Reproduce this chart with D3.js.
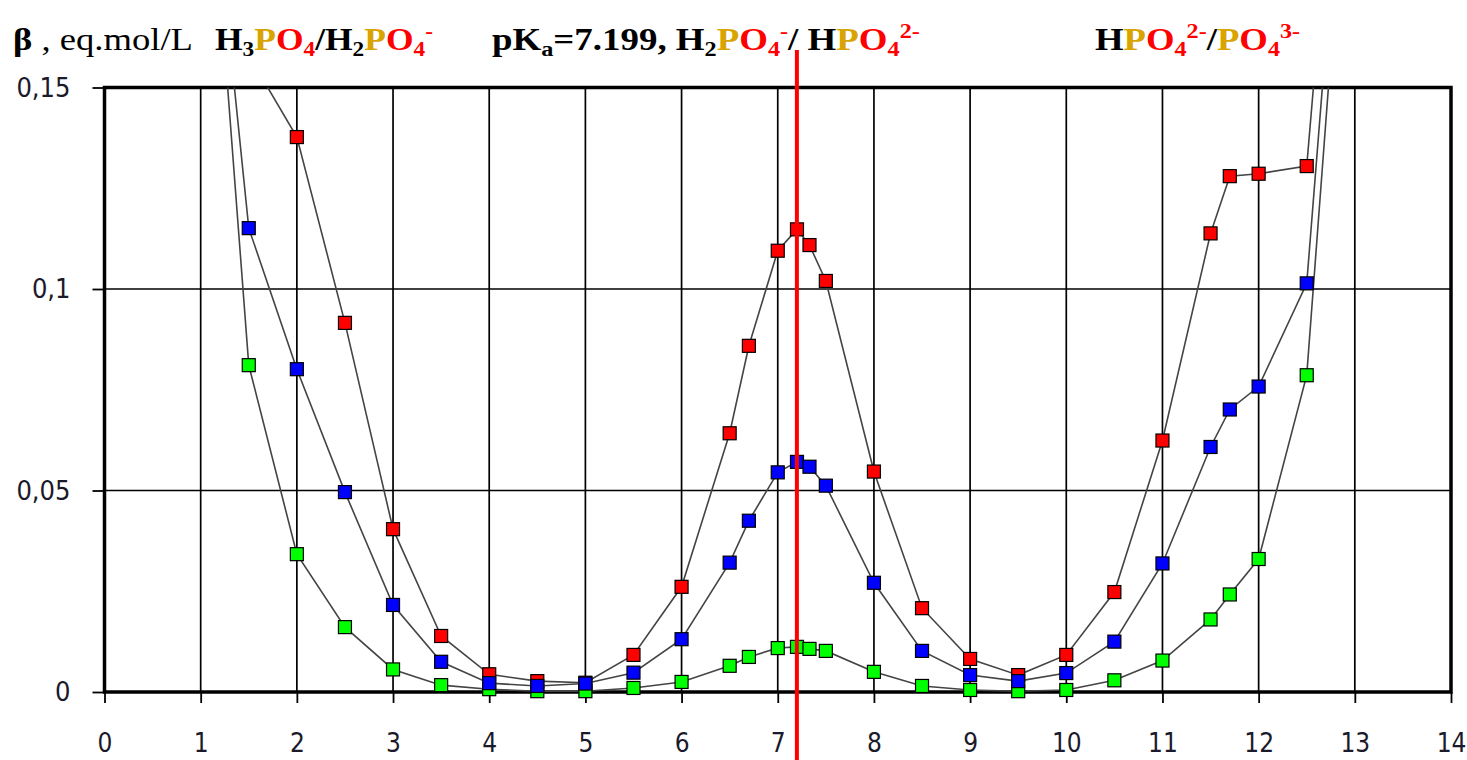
<!DOCTYPE html>
<html>
<head>
<meta charset="utf-8">
<script src="https://cdn.jsdelivr.net/npm/d3@7"></script>
<style>
  html, body { margin: 0; padding: 0; background: #fff; }
  svg { display: block; }
  text { white-space: pre; }
</style>
</head>
<body>
<svg id="chart" width="1467" height="760"></svg>
<script>
// ---------- data ----------
const pH = [1, 1.5, 2, 2.5, 3, 3.5, 4, 4.5, 5, 5.5, 6, 6.5, 6.7, 7, 7.2, 7.33, 7.5, 8, 8.5, 9, 9.5, 10, 10.5, 11, 11.5, 11.7, 12, 12.5, 13];
const betaRed = [null, 0.158, 0.1377, 0.0916, 0.0404, 0.0139, 0.0044, 0.0027, 0.0023, 0.0092, 0.0261, 0.0642, 0.0859, 0.1095, 0.1148, 0.1109, 0.1020, 0.0547, 0.0208, 0.0082, 0.0042, 0.0092, 0.0248, 0.0624, 0.1138, 0.1280, 0.1286, 0.1305, 0.271];
const betaBlue = [0.232, 0.1151, 0.0801, 0.0496, 0.0216, 0.0075, 0.0022, 0.0015, 0.0021, 0.0048, 0.0131, 0.0321, 0.0425, 0.0545, 0.0571, 0.0559, 0.0512, 0.0271, 0.0102, 0.0042, 0.0027, 0.0047, 0.0125, 0.0319, 0.0608, 0.0701, 0.0758, 0.1014, 0.251];
const betaGreen = [0.238, 0.0811, 0.0342, 0.0161, 0.0056, 0.0017, 0.0007, 0.0002, 0.0002, 0.0010, 0.0025, 0.0065, 0.0087, 0.0109, 0.0112, 0.0107, 0.0102, 0.0050, 0.0015, 0.0005, 0.0002, 0.0005, 0.0029, 0.0078, 0.0180, 0.0242, 0.0330, 0.0786, 0.237];
const xTicks = [0,1,2,3,4,5,6,7,8,9,10,11,12,13,14];
const yTicks = [0, 0.05, 0.1, 0.15];
const yTickLabels = ["0", "0,05", "0,1", "0,15"];
const pKa = 7.199;

const series = [
  { name: "red", color: "#ff0000", values: betaRed },
  { name: "green", color: "#00ff00", values: betaGreen },
  { name: "blue", color: "#0000ff", values: betaBlue }
];

// ---------- layout ----------
const svg = d3.select("#chart");
const L = 104.5, R = 1451, T = 87.5, B = 692;
const x = d3.scaleLinear().domain([0, 14]).range([L, R]);
const y = d3.scaleLinear().domain([0, 0.15]).range([B, T]);

const AXFONT = "'DejaVu Sans Condensed', 'DejaVu Sans', sans-serif";

// grid
const grid = svg.append("g");
grid.selectAll("line.v").data(xTicks.filter(d => d > 0 && d < 14)).enter().append("line")
  .attr("x1", d => x(d)).attr("x2", d => x(d)).attr("y1", T).attr("y2", B)
  .attr("stroke", "#000").attr("stroke-width", 1.7);
grid.selectAll("line.h").data(yTicks.filter(d => d > 0 && d < 0.15)).enter().append("line")
  .attr("x1", L).attr("x2", R).attr("y1", d => y(d)).attr("y2", d => y(d))
  .attr("stroke", "#000").attr("stroke-width", 1.7);

// axes
const xAxis = d3.axisBottom(x).tickValues(xTicks).tickSize(11).tickPadding(31).tickFormat(d3.format("d"));
const gx = svg.append("g").attr("transform", `translate(0,${B})`).call(xAxis);
gx.select(".domain").remove();
gx.selectAll(".tick line").attr("stroke", "#000").attr("stroke-width", 1.8);
gx.selectAll(".tick text").attr("font-family", AXFONT).attr("font-size", 26).attr("fill", "#1a1a2a");

const yAxis = d3.axisLeft(y).tickValues(yTicks).tickSize(12).tickPadding(22)
  .tickFormat((d, i) => yTickLabels[i]);
const gy = svg.append("g").attr("transform", `translate(${L},0)`).call(yAxis);
gy.select(".domain").remove();
gy.selectAll(".tick line").attr("stroke", "#000").attr("stroke-width", 1.8);
gy.selectAll(".tick text").attr("font-family", AXFONT).attr("font-size", 27).attr("fill", "#1a1a2a");

// frame
svg.append("rect").attr("x", L).attr("y", T).attr("width", R - L).attr("height", B - T)
  .attr("fill", "none").attr("stroke", "#000").attr("stroke-width", 3.5);

// clip
svg.append("clipPath").attr("id", "plotclip").append("rect")
  .attr("x", L - 20).attr("y", T).attr("width", R - L + 40).attr("height", 760 - T);

const plot = svg.append("g").attr("clip-path", "url(#plotclip)");
const line = d3.line().defined(d => d[1] != null).x(d => x(d[0])).y(d => y(d[1]));
const MS = 13;
series.forEach(s => {
  const pts = pH.map((p, i) => [p, s.values[i]]);
  const g = plot.append("g");
  g.append("path").datum(pts).attr("d", line)
    .attr("fill", "none").attr("stroke", "#444").attr("stroke-width", 1.6);
  g.selectAll("rect").data(pts.filter(d => d[1] != null)).enter().append("rect")
    .attr("x", d => x(d[0]) - MS / 2).attr("y", d => y(d[1]) - MS / 2)
    .attr("width", MS).attr("height", MS)
    .attr("fill", s.color).attr("stroke", "#000").attr("stroke-width", 1.2);
});

// pKa line
svg.append("line").attr("x1", x(pKa)).attr("x2", x(pKa)).attr("y1", 50).attr("y2", 760)
  .attr("stroke", "#ff0000").attr("stroke-width", 4);

// ---------- title ----------
const GOLD = "#d9a300", RED = "#ff0000", BLK = "#000";
const TFONT = "'Liberation Serif', 'Times New Roman', serif";
function titleSeg(x0, width, parts) {
  const t = svg.append("text").attr("x", x0).attr("y", 50)
    .attr("font-family", TFONT).attr("font-size", 32).attr("font-weight", "bold");
  let off = 0;
  parts.forEach(([str, col, kind, w]) => {
    const target = kind === "sub" ? 6 : kind === "sup" ? -12 : 0;
    const ts = t.append("tspan").text(str).attr("fill", col).attr("dy", target - off);
    if (kind !== "n") ts.attr("font-size", 21);
    if (w === "normal") ts.attr("font-weight", "normal");
    off = target;
  });
  const bw = t.node().getBBox().width;
  const sx = Math.max(0.75, Math.min(1.35, width / bw));
  t.attr("transform", `translate(${x0},0) scale(${sx},1) translate(${-x0},0)`);
}
titleSeg(13, 180, [["β", BLK, "n"], [" , eq.mol/L", BLK, "n", "normal"]]);
titleSeg(215, 218, [["H", BLK, "n"], ["3", BLK, "sub"], ["P", GOLD, "n"], ["O", RED, "n"], ["4", RED, "sub"],
  ["/H", BLK, "n"], ["2", BLK, "sub"], ["P", GOLD, "n"], ["O", RED, "n"], ["4", RED, "sub"], ["-", RED, "sup"]]);
titleSeg(492, 428, [["pK", BLK, "n"], ["a", BLK, "sub"], ["=7.199, H", BLK, "n"], ["2", BLK, "sub"],
  ["P", GOLD, "n"], ["O", RED, "n"], ["4", RED, "sub"], ["-", RED, "sup"], ["/ H", BLK, "n"],
  ["P", GOLD, "n"], ["O", RED, "n"], ["4", RED, "sub"], ["2-", RED, "sup"]]);
titleSeg(1095, 205, [["H", BLK, "n"], ["P", GOLD, "n"], ["O", RED, "n"], ["4", RED, "sub"], ["2-", RED, "sup"],
  ["/", BLK, "n"], ["P", GOLD, "n"], ["O", RED, "n"], ["4", RED, "sub"], ["3-", RED, "sup"]]);
</script>
</body>
</html>
